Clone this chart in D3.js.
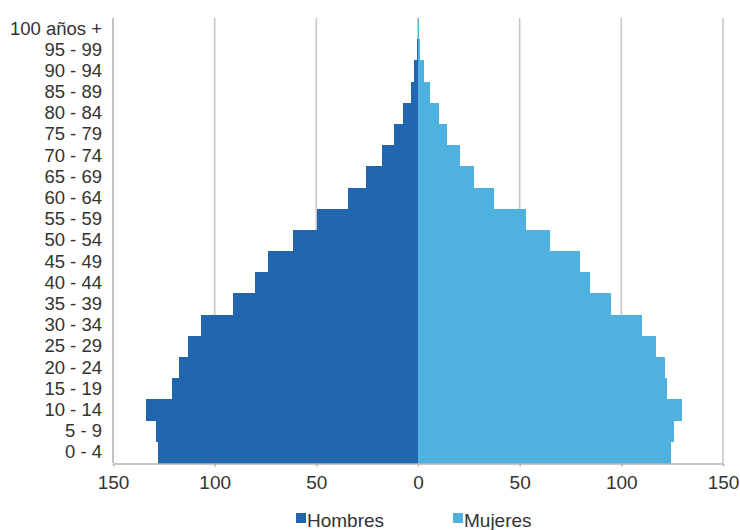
<!DOCTYPE html>
<html>
<head>
<meta charset="utf-8">
<script src="https://cdn.jsdelivr.net/npm/d3@7"></script>
<style>
  html, body { margin: 0; padding: 0; background: #ffffff; }
  svg { display: block; font-family: "Liberation Sans", Arial, Helvetica, sans-serif; }
</style>
</head>
<body>
<svg id="chart" width="740" height="530"></svg>
<script>
// Age groups, youngest first
const ageGroups = ["0 - 4", "5 - 9", "10 - 14", "15 - 19", "20 - 24", "25 - 29", "30 - 34",
  "35 - 39", "40 - 44", "45 - 49", "50 - 54", "55 - 59", "60 - 64", "65 - 69", "70 - 74",
  "75 - 79", "80 - 84", "85 - 89", "90 - 94", "95 - 99", "100 años +"];

// Population per age group
const hombres = [128.1, 128.7, 133.8, 121.0, 117.6, 113.2, 106.6, 90.8, 80.0, 74.0, 61.6,
  49.8, 34.5, 25.5, 17.5, 12.0, 7.5, 3.5, 1.8, 0.5, 0.2];
const mujeres = [124.2, 125.8, 130.0, 122.7, 121.7, 117.0, 110.2, 94.7, 84.5, 79.6, 64.9,
  52.9, 37.5, 27.5, 20.5, 14.5, 10.5, 6.0, 3.0, 1.0, 0.4];

const xTicks = [-150, -100, -50, 0, 50, 100, 150];
const seriesNames = ["Hombres", "Mujeres"];
const colors = ["#2366b0", "#4fb1de"];

const svg = d3.select("#chart");
const plotLeft = 113, plotRight = 723, plotTop = 18, plotBottom = 463;
const labelFont = "'Liberation Sans', Arial, Helvetica, sans-serif";

const x = d3.scaleLinear().domain([-150, 150]).range([plotLeft, plotRight]);
const y = d3.scaleBand().domain(ageGroups.slice().reverse()).range([plotTop, plotBottom]).padding(0);

// Vertical gridlines
svg.append("g")
  .selectAll("line")
  .data(xTicks)
  .join("line")
  .attr("x1", d => x(d)).attr("x2", d => x(d))
  .attr("y1", plotTop).attr("y2", plotBottom)
  .attr("stroke", d => d === -150 ? "#b4b4b4" : "#c6c6c6")
  .attr("stroke-width", 1.6);

// Bars: men to the left of zero, women to the right
svg.append("g")
  .attr("shape-rendering", "crispEdges")
  .selectAll("rect")
  .data(ageGroups.map((g, i) => ({ g, v: hombres[i] })))
  .join("rect")
  .attr("x", d => x(-d.v))
  .attr("y", d => y(d.g))
  .attr("width", d => x(0) - x(-d.v))
  .attr("height", y.bandwidth() + 0.6)
  .attr("fill", colors[0]);

svg.append("g")
  .attr("shape-rendering", "crispEdges")
  .selectAll("rect")
  .data(ageGroups.map((g, i) => ({ g, v: mujeres[i] })))
  .join("rect")
  .attr("x", x(0))
  .attr("y", d => y(d.g))
  .attr("width", d => x(d.v) - x(0))
  .attr("height", y.bandwidth() + 0.6)
  .attr("fill", colors[1]);

// Bottom axis
const xAxis = svg.append("g")
  .attr("transform", `translate(0,${plotBottom + 0.5})`)
  .call(d3.axisBottom(x).tickValues(xTicks).tickFormat(d => Math.abs(d))
    .tickSizeInner(3).tickSizeOuter(0).tickPadding(9));
xAxis.select(".domain").attr("stroke", "#b4b4b4").attr("stroke-width", 1.5);
xAxis.selectAll(".tick line").attr("stroke", "#b4b4b4").attr("stroke-width", 1.5);
xAxis.selectAll("text").attr("font-size", 19).attr("fill", "#333333")
  .style("font-family", labelFont);

// Left axis with age group labels
const yAxis = svg.append("g")
  .attr("transform", `translate(${plotLeft},0)`)
  .call(d3.axisLeft(y).tickSize(0).tickPadding(11));
yAxis.select(".domain").remove();
yAxis.selectAll("text").attr("font-size", 18.5).attr("fill", "#333333")
  .style("font-family", labelFont);

// Legend
const legendX = [296, 453];
const legend = svg.append("g")
  .selectAll("g")
  .data(seriesNames)
  .join("g")
  .attr("transform", (d, i) => `translate(${legendX[i]},513)`);
legend.append("rect")
  .attr("width", 10).attr("height", 10)
  .attr("fill", (d, i) => colors[i]);
legend.append("text")
  .attr("x", 11).attr("y", 13.5)
  .attr("font-size", 19).attr("fill", "#333333")
  .text(d => d);
</script>
</body>
</html>
